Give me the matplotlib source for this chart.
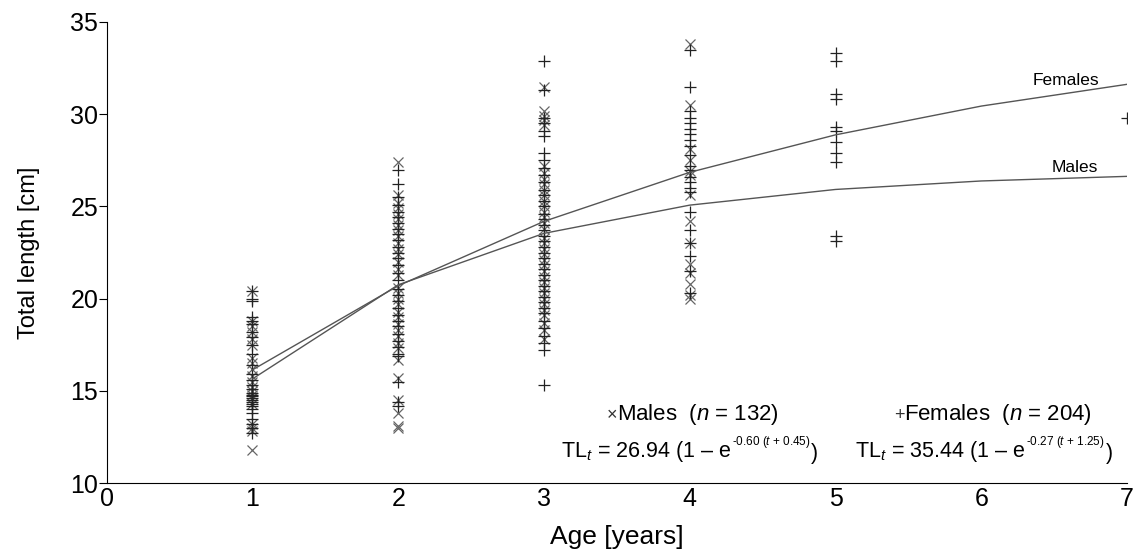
import numpy as np
import matplotlib
matplotlib.use('Agg')
import matplotlib.pyplot as plt

ages = [1, 2, 3, 4, 5, 7]

males = {
    1: [20.4, 18.8, 18.5, 18.2, 17.8, 17.5, 16.8, 16.5, 16.2, 15.8, 15.5, 15.2,
        15.0, 14.8, 14.6, 14.3, 13.2, 13.0, 12.8, 11.8],
    2: [27.4, 25.6, 25.2, 24.9, 24.6, 24.3, 24.0, 23.7, 23.4, 23.0, 22.7, 22.4,
        22.0, 21.6, 21.3, 20.6, 20.3, 20.0, 19.7, 19.3, 19.0, 18.6, 18.3, 18.0,
        17.6, 17.3, 16.7, 15.7, 14.5, 13.8, 13.1, 13.0],
    3: [31.5, 30.2, 29.9, 29.7, 29.4, 27.2, 26.8, 26.5, 26.2, 25.9, 25.6, 25.3,
        25.0, 24.7, 24.4, 24.1, 23.8, 23.3, 23.0, 22.7, 22.4, 22.1, 21.8, 21.5,
        21.2, 20.9, 20.6, 20.3, 20.0, 19.7, 19.4, 19.1, 18.7, 18.3, 17.8],
    4: [33.8, 30.5, 28.1, 27.5, 26.9, 26.7, 25.6, 24.2, 23.0, 21.9, 21.4, 20.8,
        20.2, 20.0],
}

females = {
    1: [20.4, 20.0, 19.9, 19.0, 18.8, 18.6, 18.2, 17.9, 17.5, 17.0, 16.4, 15.9,
        15.6, 15.3, 15.1, 14.9, 14.8, 14.7, 14.6, 14.5, 14.4, 14.3, 14.2, 14.0,
        13.8, 13.5, 13.2, 13.0, 12.7],
    2: [27.0, 26.2, 25.5, 25.1, 24.7, 24.4, 24.1, 23.8, 23.5, 23.2, 22.8, 22.5,
        22.2, 21.8, 21.4, 21.0, 20.5, 20.2, 19.9, 19.5, 19.1, 18.8, 18.5, 18.1,
        17.7, 17.4, 17.0, 16.9, 15.5, 14.4, 14.2],
    3: [32.9, 31.3, 29.8, 29.5, 29.1, 28.8, 27.9, 27.5, 27.1, 26.7, 26.3, 25.9,
        25.6, 25.3, 25.0, 24.6, 24.3, 24.0, 23.7, 23.4, 23.1, 22.8, 22.5, 22.2,
        21.9, 21.6, 21.3, 21.0, 20.7, 20.4, 20.1, 19.8, 19.5, 19.2, 18.8, 18.4,
        18.0, 17.6, 17.2, 15.3],
    4: [33.5, 31.5, 30.2, 29.8, 29.5, 29.2, 28.9, 28.6, 28.3, 27.8, 27.2, 27.0,
        26.6, 26.3, 26.0, 25.8, 24.7, 23.7, 23.0, 22.3, 21.5, 20.3],
    5: [33.3, 32.9, 31.1, 30.8, 29.3, 29.1, 28.5, 27.9, 27.4, 23.4, 23.1],
    7: [29.8],
}

# growth curves as drawn (values at each age)
curve_age = [1, 2, 3, 4, 5, 6, 7]
curve_males = [15.65, 20.75, 23.54, 25.07, 25.92, 26.38, 26.63]
curve_females = [16.14, 20.70, 24.19, 26.85, 28.88, 30.44, 31.62]

plt.rcParams['font.family'] = ['Liberation Sans', 'DejaVu Sans']
plt.rcParams['mathtext.fontset'] = 'custom'
plt.rcParams['mathtext.rm'] = 'Liberation Sans'
plt.rcParams['mathtext.it'] = 'Liberation Sans:italic'

fig = plt.figure(figsize=(11.35, 5.49), dpi=100)
ax = fig.add_axes([0.094, 0.12, 0.899, 0.84])

for a, vals in males.items():
    ax.plot([a] * len(vals), vals, 'x', ms=7.5, mew=0.9, color='#666666')
for a, vals in females.items():
    ax.plot([a] * len(vals), vals, '+', ms=9, mew=0.9, color='#222222')

ax.plot(curve_age, curve_females, color='#555555', lw=1)
ax.plot(curve_age, curve_males, color='#555555', lw=1)

ax.text(6.58, 31.85, 'Females', fontsize=12.5, ha='center', va='center')
ax.text(6.64, 27.1, 'Males', fontsize=12.5, ha='center', va='center')


def sample_label(x, y, sym, rest):
    t = ax.text(x, y, sym, fontsize=13, ha='left', va='center', color='#333333')
    ax.annotate(rest, xy=(1, 0.5), xycoords=t, xytext=(0, 1),
                textcoords='offset points', fontsize=16, ha='left', va='center')


def equation(x, y, coef, expo):
    t1 = ax.text(x, y, 'TL$_t$ = ' + coef + ' (1 – e', fontsize=15.5,
                 ha='left', va='baseline')
    t2 = ax.annotate(expo, xy=(1, 0), xycoords=t1, xytext=(0.5, 10),
                     textcoords='offset points', fontsize=8.5,
                     ha='left', va='bottom')
    ax.annotate(')', xy=(1, 0), xycoords=(t2, t1), xytext=(0.5, 0),
                textcoords='offset points', fontsize=15.5,
                ha='left', va='bottom')


sample_label(3.43, 13.65, '×', 'Males  ($n$ = 132)')
sample_label(5.4, 13.65, '+', 'Females  ($n$ = 204)')
equation(3.115, 11.4, '26.94', '-0.60 ($t$ + 0.45)')
equation(5.135, 11.4, '35.44', '-0.27 ($t$ + 1.25)')

ax.set_xlim(0, 7)
ax.set_ylim(10, 35)
ax.set_xticks(range(8))
ax.set_yticks(range(10, 36, 5))
ax.spines['top'].set_visible(False)
ax.spines['right'].set_visible(False)
ax.tick_params(axis='y', direction='out', length=6, width=0.8, labelsize=18, pad=0)
ax.tick_params(axis='x', direction='out', length=0, labelsize=18, pad=3)
ax.set_xlabel('Age [years]', fontsize=19, labelpad=10)
ax.set_ylabel('Total length [cm]', fontsize=17, labelpad=22)

plt.savefig('out.png')
